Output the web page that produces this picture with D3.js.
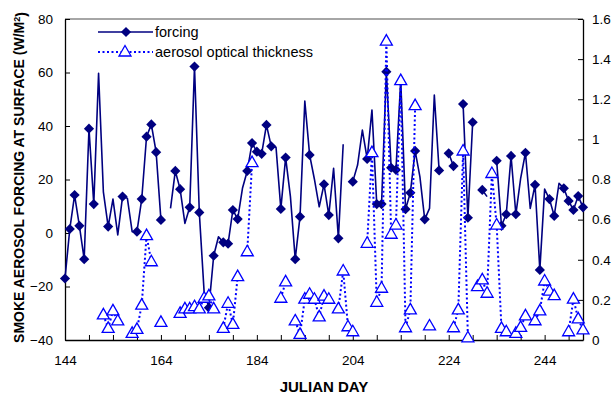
<!DOCTYPE html>
<html>
<head>
<meta charset="utf-8">
<script src="https://cdn.jsdelivr.net/npm/d3@7"></script>
<style>
  body { margin: 0; background: #fff; }
  svg { font-family: Arial, 'Liberation Sans', sans-serif; }
</style>
</head>
<body>
<svg id="chart"></svg>
<script>
// julian days 144..252, null = no value that day
const days = d3.range(144, 253);
const forcing = [
  -17, 1.5, 14.2, 2.7, -9.8, 39, 10.8, 59.7, 15.4, 2.4, // 144-153
  12.7, -0.7, 13.6, 13, 0.5, 0.5, 12.7, 36, 40.6, 30.2, // 154-163
  4.9, null, 9.2, 23.2, 16.4, 3.6, 9.6, 62.2, 7.7, -21.9, // 164-173
  -27.9, -8.5, -1.4, -3.5, -4, 8.6, 5.2, 16.7, 23.2, 33.6, // 174-183
  30.4, 29.6, 40.4, 32.4, 32, 9, 28.2, 13.6, -9.8, 6.1, // 184-193
  49.3, 29.2, 20.1, 9.8, 18.2, 6.7, 24.2, -2, 33.2, null, // 194-203
  19.2, 25.4, 38.5, 27.7, 46, 10.8, 10.8, 60.3, 24.4, 23.6, // 204-213
  57.2, 8.9, 15, 30.7, 21, 5.1, 9.2, 51.6, 23.4, null, // 214-223
  29.8, 25, null, 48.2, 5.7, 41.4, null, 16.1, 13.6, null, // 224-233
  27, 2.7, 7, 28.8, 7, 20.4, 30, 9.2, 18, -13.8, // 234-243
  16.4, 12.7, 6.4, 18.6, 16.7, 12, 8.6, 13.8, 9.6 // 244-252
];
// 1 = day drawn with a diamond marker
const forcingMarked = [
  1, 1, 1, 1, 1, 1, 1, 0, 0, 1,
  0, 0, 1, 0, 0, 1, 1, 1, 1, 1,
  1, 0, 0, 1, 1, 0, 1, 1, 1, 0,
  1, 1, 0, 1, 1, 1, 1, 0, 1, 1,
  1, 1, 1, 1, 0, 1, 1, 0, 1, 1,
  0, 1, 0, 0, 1, 1, 0, 1, 0, 0,
  1, 0, 0, 1, 0, 1, 1, 1, 1, 1,
  0, 1, 1, 1, 0, 1, 0, 0, 1, 0,
  1, 1, 0, 1, 1, 1, 0, 1, 0, 0,
  1, 1, 1, 1, 1, 0, 1, 0, 1, 1,
  0, 1, 1, 0, 1, 1, 1, 1, 1
];
const aod = [
  null, null, null, null, null, null, null, null, 0.125, 0.058, // 144-153
  0.145, 0.095, null, null, 0.033, 0.053, 0.174, 0.52, 0.39, null, // 154-163
  0.088, null, null, null, 0.133, 0.155, 0.155, 0.166, 0.155, 0.208, // 164-173
  0.22, 0.155, null, 0.058, 0.183, 0.078, 0.316, null, 0.44, 0.884, // 174-183
  null, null, null, null, null, 0.208, 0.29, null, 0.095, 0.028, // 184-193
  0.204, 0.228, 0.203, 0.115, 0.219, 0.203, null, 0.155, 0.344, 0.066, // 194-203
  0.041, null, null, 0.482, 0.934, 0.188, 0.258, 1.49, 0.527, 0.573, // 204-213
  1.293, 0.061, 0.15, 1.168, null, null, 0.07, null, null, null, // 214-223
  null, 0.061, 0.15, 0.942, 0.011, null, 0.266, 0.3, 0.233, 0.83, // 224-233
  0.573, 0.058, 0.041, null, 0.033, 0.063, 0.12, null, 0.096, 0.145, // 234-243
  0.294, 0.244, 0.221, null, null, 0.041, 0.204, 0.105, 0.05 // 244-252
];
const xLabelTicks = [144, 164, 184, 204, 224, 244];
const leftTicks = [-40, -20, 0, 20, 40, 60, 80];
const rightTicks = [0, 0.2, 0.4, 0.6, 0.8, 1, 1.2, 1.4, 1.6];
const legendLabels = ['forcing', 'aerosol optical thickness'];

const config = {
  width: 615,
  height: 395,
  marginTop: 19,
  marginRight: 32,
  marginBottom: 55,
  marginLeft: 65,
  forcingColor: '#000080',
  aodColor: '#0000ff',
  fontSize: 13.5,
};

const { width, height, marginTop, marginRight, marginBottom, marginLeft } = config;
const svg = d3.select('#chart').attr('width', width).attr('height', height).attr('viewBox', [0, 0, width, height]);

const x = d3.scaleLinear([144, 252], [marginLeft, width - marginRight]);
const yLeft = d3.scaleLinear([-40, 80], [height - marginBottom, marginTop]);
const yRight = d3.scaleLinear([0, 1.6], [height - marginBottom, marginTop]);

// plot frame top (grey)
svg.append('line')
  .attr('x1', marginLeft).attr('x2', width - marginRight)
  .attr('y1', marginTop).attr('y2', marginTop)
  .attr('stroke', '#888').attr('stroke-width', 1.5);

// axes, ticks point inward
const styleAxis = (g) => {
  g.attr('font-family', null);
  g.select('.domain').attr('stroke', '#000').attr('stroke-width', 1.3);
  g.selectAll('.tick line').attr('stroke', '#000');
  g.selectAll('.tick text').attr('fill', '#000').style('font-size', config.fontSize + 'px');
};

svg.append('g')
  .attr('transform', `translate(0,${height - marginBottom})`)
  .call(d3.axisBottom(x).tickValues(d3.range(144, 253, 5)).tickSize(-5).tickSizeOuter(0).tickPadding(15)
    .tickFormat((d) => (xLabelTicks.includes(d) ? d : '')))
  .call(styleAxis);

svg.append('g')
  .attr('transform', `translate(${marginLeft},0)`)
  .call(d3.axisLeft(yLeft).tickValues(leftTicks).tickSize(-5).tickSizeOuter(0).tickPadding(12))
  .call(styleAxis);

svg.append('g')
  .attr('transform', `translate(${width - marginRight},0)`)
  .call(d3.axisRight(yRight).tickValues(rightTicks).tickSize(-5).tickSizeOuter(0).tickPadding(9)
    .tickFormat((d) => String(+d.toFixed(1))))
  .call(styleAxis);

// axis titles
svg.append('text')
  .attr('x', (marginLeft + width - marginRight) / 2)
  .attr('y', 392)
  .attr('text-anchor', 'middle')
  .attr('font-weight', 'bold')
  .style('font-size', '15px')
  .text('JULIAN DAY');

const yTitle = svg.append('text')
  .attr('transform', `translate(24,${(marginTop + height - marginBottom) / 2 - 2}) rotate(-90)`)
  .attr('text-anchor', 'middle')
  .attr('font-weight', 'bold')
  .style('font-size', '14px');
yTitle.append('tspan').text('SMOKE AEROSOL FORCING AT SURFACE (W/M');
yTitle.append('tspan').attr('dy', '-0.45em').style('font-size', '9px').text('2');
yTitle.append('tspan').attr('dy', '0.45em').text(')');

const idx = days.map((_, i) => i);

// forcing line + diamonds
const forcingLine = d3.line()
  .defined((i) => forcing[i] !== null)
  .x((i) => x(days[i]))
  .y((i) => yLeft(forcing[i]));
svg.append('path')
  .attr('fill', 'none')
  .attr('stroke', config.forcingColor)
  .attr('stroke-width', 1.6)
  .attr('stroke-linejoin', 'round')
  .attr('d', forcingLine(idx));

const diamond = d3.symbol(d3.symbolSquare, 52);
svg.append('g')
  .selectAll('path')
  .data(idx.filter((i) => forcing[i] !== null && forcingMarked[i]))
  .join('path')
  .attr('d', diamond)
  .attr('transform', (i) => `translate(${x(days[i])},${yLeft(forcing[i])}) rotate(45)`)
  .attr('fill', config.forcingColor);

// aerosol optical thickness dotted line + open triangles
const aodLine = d3.line()
  .defined((i) => aod[i] !== null)
  .x((i) => x(days[i]))
  .y((i) => yRight(aod[i]));
svg.append('path')
  .attr('fill', 'none')
  .attr('stroke', config.aodColor)
  .attr('stroke-width', 2)
  .attr('stroke-dasharray', '2,2.5')
  .attr('d', aodLine(idx));

const triangle = 'M0,-6.5L6,4L-6,4Z';
svg.append('g')
  .selectAll('path')
  .data(idx.filter((i) => aod[i] !== null))
  .join('path')
  .attr('d', triangle)
  .attr('transform', (i) => `translate(${x(days[i])},${yRight(aod[i])})`)
  .attr('fill', '#fff')
  .attr('stroke', config.aodColor)
  .attr('stroke-width', 1.3);

// legend
const legend = svg.append('g').attr('transform', 'translate(98,32)');
legend.append('line').attr('x1', 0).attr('x2', 55).attr('y1', 0).attr('y2', 0)
  .attr('stroke', config.forcingColor).attr('stroke-width', 1.6);
legend.append('path').attr('d', diamond).attr('transform', 'translate(28,0) rotate(45)').attr('fill', config.forcingColor);
legend.append('line').attr('x1', 0).attr('x2', 55).attr('y1', 20).attr('y2', 20)
  .attr('stroke', config.aodColor).attr('stroke-width', 2).attr('stroke-dasharray', '2,2.5');
legend.append('path').attr('d', triangle).attr('transform', 'translate(27,20)')
  .attr('fill', '#fff').attr('stroke', config.aodColor).attr('stroke-width', 1.3);
legend.selectAll('text')
  .data(legendLabels)
  .join('text')
  .attr('x', 57)
  .attr('y', (_, i) => i * 20)
  .attr('dy', '0.35em')
  .style('font-size', '14.5px')
  .text((d) => d);
</script>
</body>
</html>
